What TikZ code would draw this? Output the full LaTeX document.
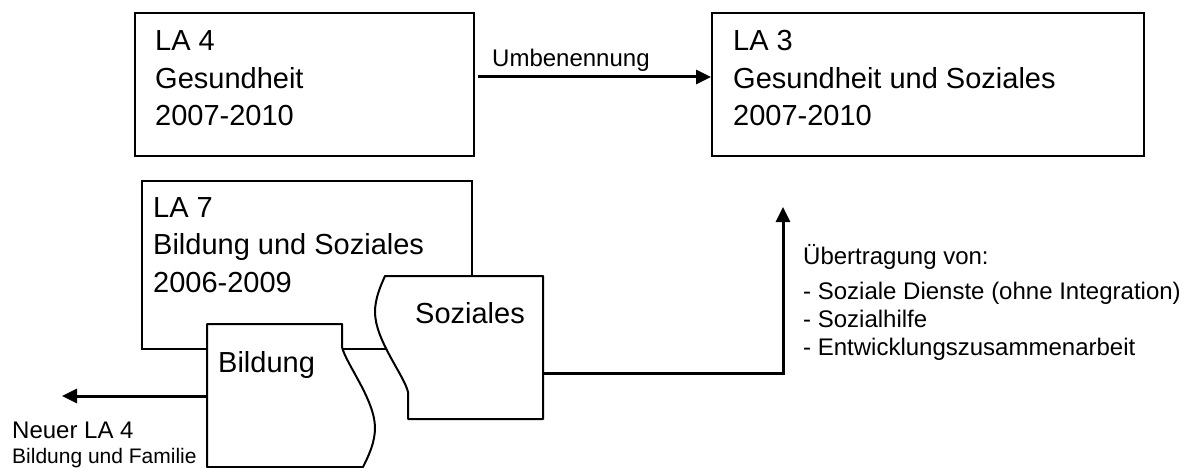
\documentclass[tikz,border=0pt]{standalone}
\usepackage{fontspec}
\setmainfont{Liberation Sans}
\usetikzlibrary{arrows.meta,calc,positioning}
\tikzset{
  frame/.style={draw, line width=2.3pt, fill=white, inner sep=0pt, anchor=north west},
  tab/.style={draw, line width=2pt, fill=white, line join=round},
  bigtxt/.style={anchor=base west, align=left, inner sep=0pt, font=\fontsize{29}{37.5}\selectfont},
  smalltxt/.style={anchor=base west, align=left, inner sep=0pt, font=\fontsize{24}{28}\selectfont},
  tinytxt/.style={anchor=base west, inner sep=0pt, font=\fontsize{21}{25}\selectfont},
  flowArrow/.style={-{Triangle[length=15pt,width=14pt]}, line width=3pt}
}
\begin{document}
\begin{tikzpicture}[x=1pt, y=-1pt]
  \useasboundingbox (0,0) rectangle (1188,468);
  % Boxes (text nodes sit on the baseline of their last line)
  \node[frame, minimum width=339pt, minimum height=143pt] (la4) at (134,12) {};
  \node[frame, minimum width=432pt, minimum height=143pt] (la3) at (711,12) {};
  \node[frame, minimum width=330pt, minimum height=168pt] (la7) at (141,180) {};
  \node[bigtxt] (la4txt) at (155,126) {LA 4\\Gesundheit\\2007-2010};
  \node[bigtxt] (la3txt) at (733,126) {LA 3\\Gesundheit und Soziales\\2007-2010};
  \node[bigtxt] (la7txt) at (153,292) {LA 7\\Bildung und Soziales\\2006-2009};
  % Renaming
  \coordinate (umbStart) at (478,77);
  \draw[flowArrow] (umbStart) -- (umbStart -| la3.west);
  \node[smalltxt] (umbLbl) at (492,67) {Umbenennung};
  % Tabs split off LA 7
  \draw[tab] (207,324) -- (342,324) -- (342,347)
    .. controls (346,364) and (375,400) .. (375,428)
    .. controls (375,443) and (368,457) .. (363,467) -- (207,467) -- cycle;
  \draw[tab] (385,276) -- (543,276) -- (543,419) -- (408,419) -- (408,392)
    .. controls (404,375) and (375,340) .. (375,312)
    .. controls (375,298) and (381,285) .. cycle;
  \node[bigtxt] (bild) at (218,372) {Bildung};
  \node[bigtxt] (soz) at (415,323) {Soziales};
  % Transfers
  \coordinate (sozR) at (543,373);
  \coordinate (uebTop) at (783,207);
  \draw[flowArrow] (sozR) -| (uebTop);
  \coordinate (bildL) at (207,396);
  \coordinate (neuEnd) at (62,396);
  \draw[flowArrow] (bildL) -- (neuEnd);
  \node[smalltxt] (uebTxt) at (803,355) {Übertragung von:\\[7pt]- Soziale Dienste (ohne Integration)\\- Sozialhilfe\\- Entwicklungszusammenarbeit};
  \node[smalltxt] (neuTxt) at (12,438) {Neuer LA 4};
  \node[tinytxt] (neuSub) at (12,463) {Bildung und Familie};
\end{tikzpicture}
\end{document}
